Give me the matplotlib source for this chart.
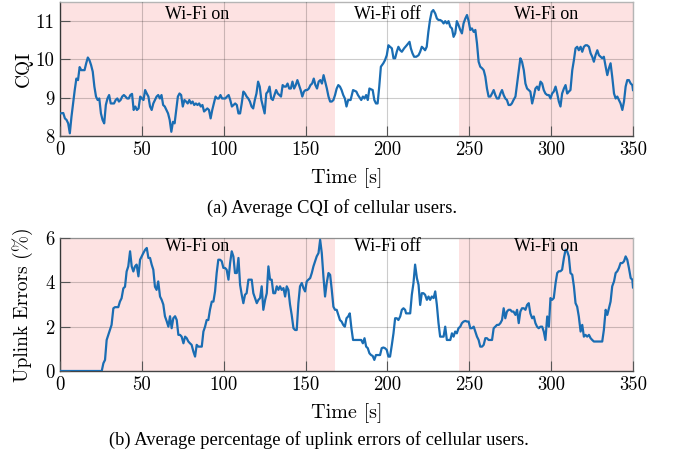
import matplotlib
matplotlib.use("Agg")
import matplotlib.pyplot as plt

# ---------------- data ----------------
cqi_t = [0, 2, 3, 4, 5, 6, 7, 8, 9, 10, 11, 12, 13, 14, 15, 16, 17, 18, 19, 20,
         21, 22, 23, 24, 25, 26, 27, 28, 29, 30, 31, 32, 33, 34, 35, 36, 37, 38, 39, 40,
         41, 42, 43, 44, 45, 46, 47, 48, 49, 50, 51, 52, 53, 54, 55, 56, 57, 58, 59, 60,
         61, 62, 63, 64, 65, 66, 67, 68, 69, 70, 71, 72, 73, 74, 75, 76, 77, 78, 79, 80,
         81, 82, 83, 84, 85, 86, 87, 88, 89, 90, 91, 92, 93, 94, 95, 96, 97, 98, 99, 100,
         101, 102, 103, 104, 105, 106, 107, 108, 109, 110, 111, 112, 113, 114, 115, 116, 117, 118, 119, 120,
         121, 122, 123, 124, 125, 126, 127, 128, 129, 130, 131, 132, 133, 134, 135, 136, 137, 138, 139, 140,
         141, 142, 143, 144, 145, 146, 147, 148, 149, 150, 151, 152, 153, 154, 155, 156, 157, 158, 159, 160,
         161, 162, 163, 164, 165, 166, 167, 168, 169, 170, 171,
         172, 173, 174, 175, 176, 177.5, 179, 181, 182, 184, 185, 186, 187, 188, 189, 191, 192, 193, 194, 195,
         196, 197.5, 198.5, 199.6, 200.6, 201.6, 202.7, 203.7, 204.7, 205.7, 206.7, 207.8, 208.8, 210.2, 211.8,
         213.5, 214.3, 215.3, 216.3, 217.6, 219, 220, 221, 222, 223, 224, 225, 226, 227, 228, 229.2, 230.2,
         231.2, 232.2, 233.3, 234.3, 235.3, 236.3, 237.3, 238.4, 239.4, 240.4, 241.4, 242.4, 243.4, 244.5,
         245.5, 246.5, 247.6, 248.6, 249.6, 250.6, 251.6, 252.7, 253.7, 254.7, 255.7, 256.7, 257.8, 258.8,
         259.8, 260.8, 261.8, 262.9, 263.9, 264.9, 265.9, 266.9, 268, 269, 270, 271, 272, 273, 274, 275.1,
         276, 277, 278.2, 279.2, 280.2, 281.2, 282.2, 283.3, 284.3, 285.3, 286.3, 287.3, 288.4, 289.4, 290.4,
         291.4, 292.4, 293.5, 294.5, 295.5, 296.5, 297.6, 298.6, 299.6, 300.6, 301.6, 302.7, 303.7, 304.7,
         305.7, 306.7, 307.8, 308.8, 309.8, 310.8, 311.8, 312.9, 313.9, 314.9, 315.9, 316.9, 318, 319, 320,
         321, 322, 323.1, 324.1, 325.1, 326.1, 327.1, 328.2, 329.2, 330.2, 331.2, 332.2, 333.3, 334.3, 335.3,
         336.3, 337.3, 338.4, 339.4, 340.4, 341.4, 342.4, 343.5, 344.5, 345.5, 346.5, 347.5, 348.6, 349.6, 350]
cqi = [8.59, 8.6, 8.46, 8.42, 8.33, 8.07, 8.5, 8.85, 9.2, 9.5, 9.46, 9.8, 9.72, 9.72, 9.72, 9.9, 10.05, 9.98, 9.85, 9.68,
       9.29, 9.03, 8.94, 8.98, 8.59, 8.42, 8.33, 8.81, 8.98, 9.07, 8.85, 8.85, 8.85, 8.94, 8.98, 8.9, 8.94, 9.03, 9.07, 9.03,
       8.98, 8.98, 9.07, 9.1, 8.68, 8.77, 8.68, 8.72, 9.03, 8.98, 8.94, 9.2, 9.11, 9.03, 8.77, 8.68, 8.85, 8.94, 9.03, 9.07,
       8.98, 9.07, 8.81, 8.77, 8.68, 8.59, 8.42, 8.11, 8.37, 8.33, 8.68, 9.03, 9.11, 9.07, 8.77, 8.94, 8.9, 8.85, 8.94, 8.85,
       8.9, 8.81, 8.85, 8.81, 8.85, 8.77, 8.81, 8.64, 8.68, 8.72, 8.68, 8.46, 8.68, 8.85, 9.03, 8.98, 8.98, 9.07, 8.98, 8.98,
       8.98, 9.03, 9.07, 8.94, 8.77, 8.81, 8.85, 8.81, 8.59, 8.59, 8.85, 9.16, 9.11, 9.03, 8.98, 8.9, 8.77, 8.72, 8.94, 9.11,
       9.42, 9.29, 8.94, 8.77, 8.59, 9.11, 9.16, 9.29, 8.98, 8.94, 9.07, 9.2, 9.11, 9.07, 9.03, 9.33, 9.29, 9.29, 9.37, 9.24,
       9.24, 9.42, 9.24, 9.33, 9.46, 9.33, 9.2, 9.03, 9.16, 9.2, 9.2, 9.24, 9.33, 9.37, 9.5, 9.33, 9.24, 9.42, 9.46, 9.37,
       9.59, 9.42, 9.24, 9.03, 8.9, 8.9, 8.94, 9.07, 9.24, 9.33, 9.29,
       9.2, 9.07, 8.98, 8.77, 8.94, 8.94, 9.2, 9.16, 9.07, 8.94, 9.03, 8.98, 9.07, 8.94, 9.24, 9.2, 8.94, 8.85, 8.85, 9.29,
       9.81, 9.9, 9.98, 10.11, 10.37, 10.33, 10.29, 10.03, 10.03, 10.2, 10.33, 10.24, 10.2, 10.29, 10.37,
       10.46, 10.29, 10.16, 10.07, 10.07, 10.11, 10.2, 10.33, 10.29, 10.24, 10.33, 10.72, 11.03, 11.24, 11.29, 11.2, 11.07,
       11.03, 11.03, 11.0, 10.94, 11.0, 10.94, 11.0, 10.85, 10.81, 10.59, 10.68, 11.0, 10.9, 10.77,
       10.68, 10.94, 11.07, 11.16, 11.0, 10.77, 10.81, 10.72, 10.77, 10.42, 9.94, 9.81, 9.77, 9.72,
       9.55, 9.24, 9.03, 9.03, 9.11, 9.2, 9.07, 8.98, 8.98, 9.11, 9.2, 9.07, 8.98, 8.94, 8.81, 8.81,
       8.85, 8.94, 9.03, 9.37, 9.72, 10.03, 9.94, 9.72, 9.37, 9.24, 9.2, 9.16, 8.85, 9.03, 9.24,
       9.29, 9.2, 9.42, 9.37, 9.2, 9.11, 9.07, 9.07, 8.98, 9.11, 9.16, 9.29, 9.11, 8.9,
       8.77, 9.11, 9.24, 9.33, 9.11, 9.16, 9.2, 9.72, 9.98, 10.29, 10.33, 10.24, 10.33, 10.2, 10.33,
       10.37, 10.37, 10.33, 10.16, 10.07, 9.94, 10.11, 10.24, 10.11, 10.07, 10.03, 10.07, 9.81, 9.59, 9.77,
       9.9, 9.55, 9.11, 8.98, 9.03, 8.94, 8.85, 8.68, 8.9, 9.29, 9.46, 9.46, 9.37, 9.33, 9.2]

err_t = [0, 25.5, 26.5, 27.5, 28.5, 29.5, 30.5, 31.5, 32.6, 33.6, 34.6, 35.6, 36.6, 37.6, 38.7, 39.7, 40.7,
         41.7, 42.8, 43.8, 44.8, 45.8, 46.8, 47.9, 48.9, 49.9, 50.9, 52, 53, 54, 55, 56, 57, 58, 59, 60,
         61.1, 62.1, 63.1, 64.1, 65.2, 66.2, 67.2, 68.2, 69.2, 70.3, 71.3, 72.3, 73.3, 74.3, 75.4, 76.4,
         77.4, 78.4, 79.4, 80.4, 81.5, 82.5, 83.5, 84.5, 85.5, 86.6, 87.6, 88.6, 89.6, 90.6, 91.6, 92.7,
         93.7, 94.7, 95.7, 96.7, 97.8, 98.8, 99.8, 100.8, 101.8, 102.9, 103.9, 104.9, 105.9, 106.9, 108,
         109, 110, 111, 112, 113, 114, 115.1, 116.1, 117.1, 118.1, 119.1, 120.2, 121.2, 122.2, 123.2,
         124.2, 125.3, 126.3, 127.3, 128.3, 129.3, 130.3, 131.4, 132.4, 133.4, 134.4, 135.4, 136.5, 137.5,
         138.5, 139.5, 140.5, 141.5, 142.6, 143.6, 144.6, 145.6, 146.6, 147.7, 148.7, 149.7, 150.7, 151.7,
         152.8, 153.8, 154.8, 155.8, 156.8, 157.9, 158.9, 159.9, 160.9, 161.9, 162.9, 164, 165, 166, 167,
         168, 169, 170, 171,
         172, 173, 174, 175, 176, 177, 178, 179, 180, 182, 184, 185, 186, 187, 188, 189, 190, 191, 192, 193,
         194.5, 195.5, 196.5, 197.5, 198.5, 199.6, 200.6, 201.6, 202.7, 203.7, 204.7, 205.7, 206.7, 207.8,
         208.8, 209.8, 210.8, 211.4, 212.9, 213.9, 214.9, 215.9, 216.9, 218, 219, 220, 221, 222, 223, 224.1,
         225.1, 226.1, 227.1, 228.2, 229.2, 230.2, 231.2, 232.2, 233.3, 234.3, 235.3, 236.3, 237.3, 238.4,
         239.4, 240.4, 241.4, 242.4, 243.4, 244.5, 245.5, 246.5, 247.6, 248.6, 249.6, 250.6, 251.6, 252.7,
         253.7, 254.7, 255.7, 256.7, 257.8, 258.8, 259.8, 260.8, 261.8, 262.9, 263.9, 264.9, 265.9, 266.9,
         268, 269, 270, 271, 272, 273, 274, 275.1, 276, 277, 278.2, 279.2, 280.2, 281.2, 282.2, 283.3,
         284.3, 285.3, 286.3, 287.3, 288.4, 289.4, 290.4, 291.4, 292.4, 293.5, 294.5, 295.5, 296.5, 297.6,
         298.6, 299.6, 300.6, 301.6, 302.7, 303.7, 304.7, 305.7, 306.7, 307.8, 308.8, 309.8, 310.8, 311.8,
         312.9, 313.9, 314.9, 315.9, 316.9, 318, 319, 320, 321, 322, 323.1, 324.1, 325.1, 326.1, 328.2,
         330.2, 331.2, 332.2, 333.3, 334.3, 335.3, 336.3, 337.3, 338.4, 339.4, 340.4, 341.4, 342.4, 343.5,
         344.5, 345.5, 346.5, 347.5, 348.6, 349.6, 350]
err = [0, 0, 0.35, 0.5, 1.4, 1.63, 1.85, 2.08, 2.83, 2.88, 2.88, 2.88, 3.13, 3.28, 3.73, 3.8, 4.49,
       4.72, 5.4, 4.72, 4.49, 4.72, 4.8, 4.27, 5.02, 5.17, 5.32, 5.47, 5.55, 5.1, 5.1, 4.8, 4.57, 3.8, 3.66, 4.04,
       3.36, 3.21, 3.0, 2.47, 2.24, 2.0, 2.47, 1.93, 2.38, 2.47, 2.3, 1.63, 1.63, 1.55, 1.25, 1.55,
       1.48, 1.33, 1.25, 1.18, 0.87, 0.65, 1.18, 1.1, 1.1, 1.1, 1.78, 2.0, 2.3, 2.3, 2.76, 3.13,
       3.13, 3.59, 4.42, 5.02, 5.02, 4.95, 4.65, 4.65, 4.57, 4.12, 4.87, 5.4, 5.17, 4.42, 4.42,
       5.1, 3.89, 3.44, 3.06, 3.44, 3.51, 4.12, 4.12, 4.12, 3.51, 3.29, 3.06, 3.21, 3.29, 3.82,
       2.76, 3.21, 3.51, 4.72, 4.12, 4.12, 3.51, 3.51, 3.82, 3.66, 3.82, 3.66, 3.74, 3.36,
       3.82, 3.66, 3.0, 2.54, 1.93, 1.85, 1.85, 3.06, 3.82, 3.97, 3.74, 3.59, 4.04, 4.12,
       4.19, 4.42, 4.72, 4.95, 5.17, 5.32, 5.92, 5.32, 4.27, 3.36, 3.96, 4.42, 4.34, 3.66, 2.9,
       2.76, 2.76, 2.53, 2.3,
       2.23, 2.08, 2.0, 2.38, 2.46, 2.6, 1.93, 1.4, 1.4, 1.4, 1.4, 1.25, 1.48, 1.1, 1.03, 0.8, 0.72, 0.68, 0.5, 0.72,
       0.72, 0.72, 1.03, 1.06, 1.03, 0.95, 0.65, 0.65, 1.18, 1.7, 2.38, 2.38, 2.3, 2.46,
       2.76, 2.83, 2.76, 2.6, 2.6, 2.6, 3.44, 3.96, 4.8, 4.19, 3.89, 2.98, 3.51, 3.51, 3.44, 3.21,
       3.36, 3.21, 3.36, 3.29, 3.59, 2.98, 2.16, 1.55, 1.55, 1.55, 2.0, 1.4, 1.4, 1.4,
       1.7, 1.55, 1.78, 1.7, 1.93, 2.0, 2.16, 2.23, 2.26, 2.23, 2.23, 1.93, 1.93, 2.0,
       1.78, 1.55, 1.4, 1.1, 1.1, 1.18, 1.48, 1.48, 1.4, 1.4, 1.4, 1.93, 2.0, 2.08,
       2.08, 2.16, 2.3, 2.83, 2.38, 2.68, 2.76, 2.76, 2.68, 2.68, 2.53, 2.76, 2.16, 2.68, 2.83, 2.83,
       2.76, 2.98, 3.06, 2.6, 2.38, 2.46, 2.16, 2.0, 1.93, 2.0, 2.0, 1.78, 1.4, 2.46,
       2.0, 3.29, 3.21, 3.29, 3.96, 4.42, 4.5, 4.5, 4.57, 5.1, 5.47, 5.4, 5.17, 4.42,
       4.34, 3.82, 3.06, 2.9, 2.46, 1.78, 2.08, 1.55, 1.63, 1.55, 1.63, 1.48, 1.4, 1.33, 1.33,
       1.33, 1.33, 1.85, 2.76, 2.53, 2.83, 3.13, 3.82, 4.04, 4.42, 4.5, 4.65, 4.87, 4.87,
       4.95, 5.17, 5.02, 4.65, 4.19, 4.12, 3.77]

wifi_on_spans = [(0, 168), (244, 350)]
phase_labels = ["Wi-Fi on", "Wi-Fi off", "Wi-Fi on"]
phase_label_x = [84, 200, 297]
x_ticks = [0, 50, 100, 150, 200, 250, 300, 350]
cqi_ticks = [8, 9, 10, 11]
err_ticks = [0, 2, 4, 6]

# ---------------- style ----------------
LINE = "#1a6db3"
SHADE = "#fde2e2"
TICKFONT = "cmr10"
SERIF = "Liberation Serif"

fig = plt.figure(figsize=(6.73, 4.54), dpi=100)
ax1 = fig.add_axes([60 / 673, 1 - 136 / 454, 573 / 673, 134 / 454])
ax2 = fig.add_axes([60 / 673, 1 - 371 / 454, 573 / 673, 133 / 454])


def style(ax, ylim, yticks, ylabel, label_y):
    for a, b in wifi_on_spans:
        ax.axvspan(a, b, color=SHADE, lw=0, zorder=0)
    ax.set_xlim(0, 350)
    ax.set_ylim(*ylim)
    ax.set_xticks(x_ticks)
    ax.set_yticks(yticks)
    ax.grid(True, color="black", alpha=0.2, lw=0.8, zorder=1)
    ax.set_axisbelow(False)
    ax.tick_params(direction="in", length=7, width=0.8, color="#555555",
                   labelsize=13.5, pad=4, top=False, right=False)
    for lab in ax.get_xticklabels() + ax.get_yticklabels():
        lab.set_fontfamily(TICKFONT)
    for s in ["left", "bottom"]:
        ax.spines[s].set_color("#444444")
        ax.spines[s].set_linewidth(1.0)
    for s in ["top", "right"]:
        ax.spines[s].set_color("#b5b5b5")
        ax.spines[s].set_linewidth(1.0)
    ax.set_xlabel("Time [s]", fontfamily=TICKFONT, fontsize=14.5, labelpad=6)
    ax.set_ylabel(ylabel, fontfamily=TICKFONT, fontsize=14)
    ax.yaxis.set_label_coords(-0.047, 0.5)
    for txt, x in zip(phase_labels, phase_label_x):
        ax.text(x, label_y, txt, transform=ax.get_xaxis_transform(),
                ha="center", va="center", fontfamily=SERIF, fontsize=13, zorder=4)


style(ax1, (8, 11.5), cqi_ticks, "CQI", 0.91)
style(ax2, (0, 6), err_ticks, "Uplink Errors (%)", 0.935)

ax1.plot(cqi_t, cqi, color=LINE, lw=1.6, zorder=3, clip_on=True)
ax2.plot(err_t, err, color=LINE, lw=1.6, zorder=3, clip_on=True)

fig.text(332 / 673, 1 - 208 / 454, "(a) Average CQI of cellular users.",
         ha="center", va="center", fontfamily=SERIF, fontsize=13.3)
fig.text(319 / 673, 1 - 440 / 454, "(b) Average percentage of uplink errors of cellular users.",
         ha="center", va="center", fontfamily=SERIF, fontsize=13.3)

fig.savefig("out.png", dpi=100)
